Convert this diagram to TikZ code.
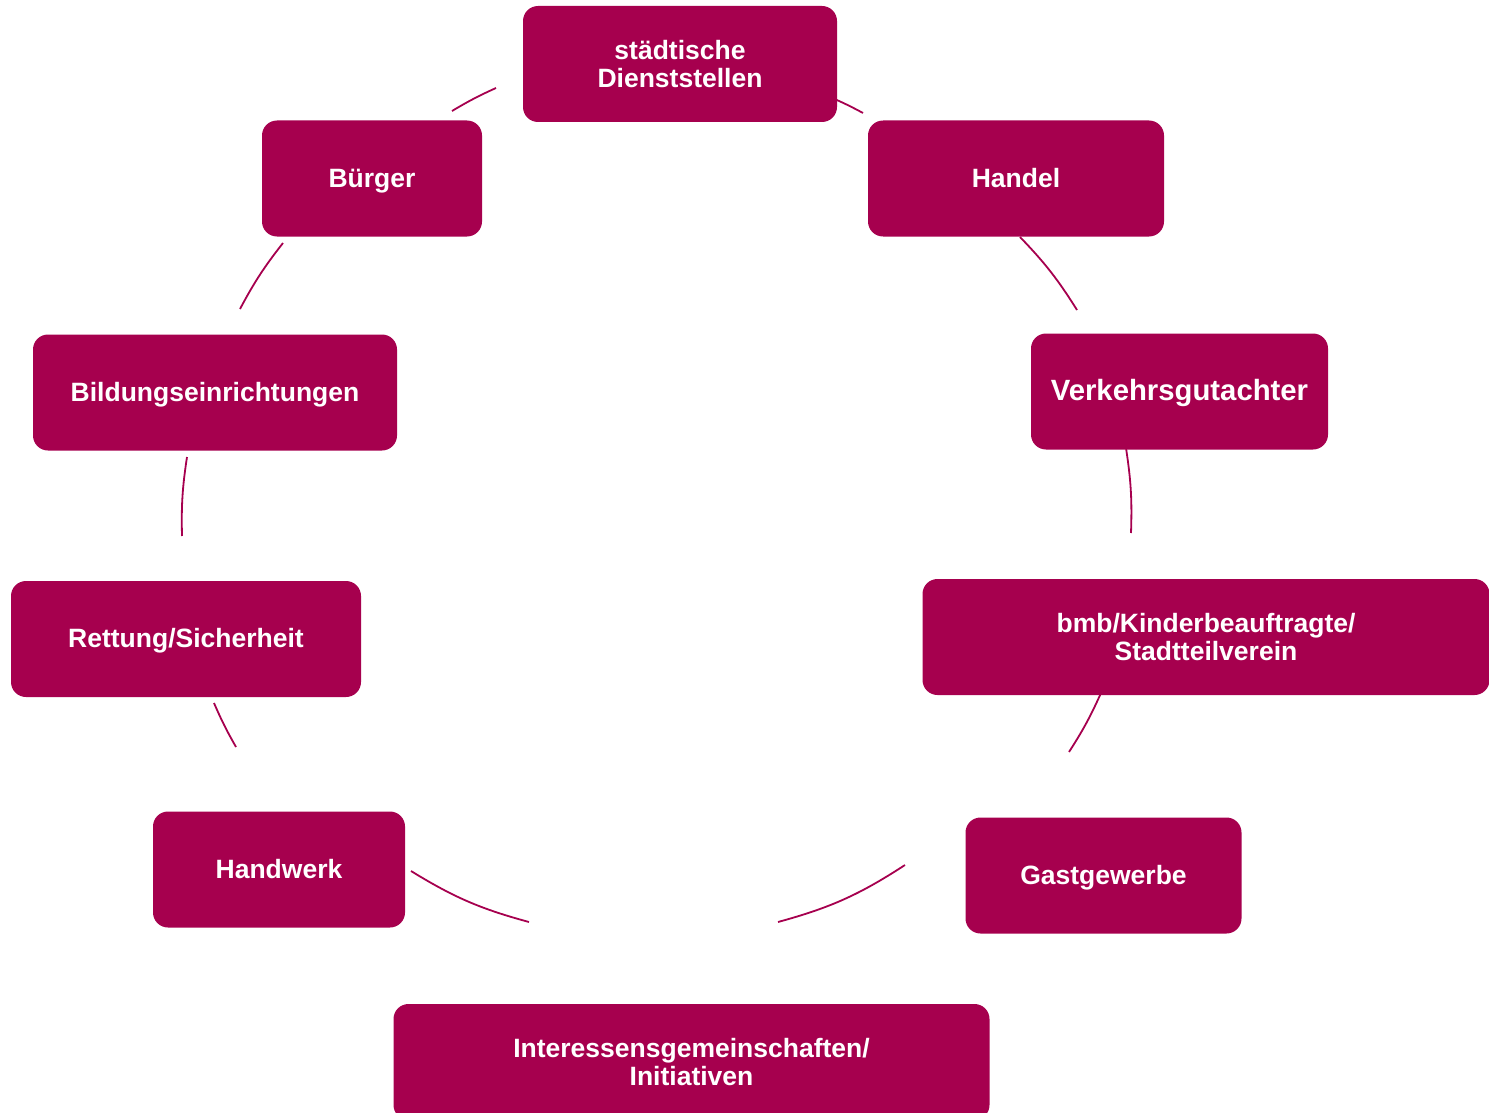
\documentclass[tikz,border=0pt]{standalone}
\usepackage{fontspec}
\setmainfont{Liberation Sans}
\definecolor{boxc}{HTML}{A6004E}
\begin{document}
\begin{tikzpicture}[x=1pt,y=-1pt,
  box/.style={rounded corners=15pt, fill=boxc, text=white, align=center, inner sep=0pt,
    font=\bfseries\fontsize{26.5}{28}\selectfont, minimum height=116pt},
  oneline/.style={text height=17pt, text depth=0pt},
  arcline/.style={draw=boxc, line width=1.8pt}]
\useasboundingbox (0,0) rectangle (1489,1113);
\clip (0,0) rectangle (1489,1113);
% arcs (drawn first, under the boxes)
\coordinate (a1s) at (830,97);   \coordinate (a1e) at (863,113);
\coordinate (a2s) at (1020,237); \coordinate (a2e) at (1077,310);
\coordinate (a3s) at (1126,448); \coordinate (a3e) at (1131,533);
\coordinate (a4s) at (1101,693); \coordinate (a4e) at (1069,752);
\coordinate (a5s) at (905,865);  \coordinate (a5e) at (778,922);
\coordinate (a6s) at (529,922);  \coordinate (a6e) at (411,871);
\coordinate (a7s) at (236,747);  \coordinate (a7e) at (214,703);
\coordinate (a8s) at (182,536);  \coordinate (a8e) at (187,457);
\coordinate (a9s) at (240,309);  \coordinate (a9e) at (283,243);
\coordinate (a10s) at (452,111); \coordinate (a10e) at (496,88);
\draw[arcline] (a1s) to[bend left=2.4] (a1e);
\draw[arcline] (a2s) to[bend left=5.9] (a2e);
\draw[arcline] (a3s) to[bend left=5.3] (a3e);
\draw[arcline] (a4s) to[bend left=4.2] (a4e);
\draw[arcline] (a5s) to[bend left=8.9] (a5e);
\draw[arcline] (a6s) to[bend left=8.2] (a6e);
\draw[arcline] (a7s) to[bend left=3.1] (a7e);
\draw[arcline] (a8s) to[bend left=5.0] (a8e);
\draw[arcline] (a9s) to[bend left=5.0] (a9e);
\draw[arcline] (a10s) to[bend left=3.2] (a10e);
% boxes
\node[box, minimum width=314pt] (staedt) at (680,64) {städtische\\Dienststellen};
\node[box, oneline, minimum width=296pt] (handel) at (1016,178.5) {Handel};
\node[box, oneline, minimum width=297pt, font=\bfseries\fontsize{29.3}{31}\selectfont] (verk) at (1179.5,391.5) {Verkehrsgutachter};
\node[box, minimum width=567pt] (bmb) at (1206,637) {bmb/Kinderbeauftragte/\\Stadtteilverein};
\node[box, oneline, minimum width=276pt] (gast) at (1103.5,875.5) {Gastgewerbe};
\node[box, minimum width=596pt] (inter) at (691.5,1062) {Interessensgemeinschaften/\\Initiativen};
\node[box, oneline, minimum width=252pt] (handwerk) at (279,869.5) {Handwerk};
\node[box, oneline, minimum width=350pt] (rettung) at (186,639) {Rettung/Sicherheit};
\node[box, oneline, minimum width=364pt] (bildung) at (215,392.5) {Bildungseinrichtungen};
\node[box, oneline, minimum width=220pt] (buerger) at (372,178.5) {Bürger};
\end{tikzpicture}
\end{document}
